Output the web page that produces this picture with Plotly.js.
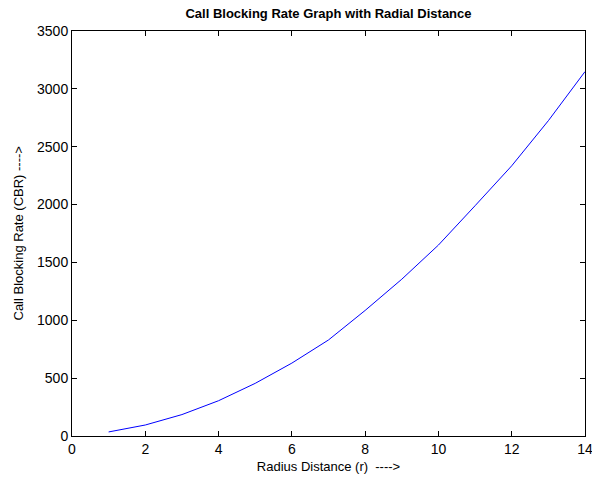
<!DOCTYPE html>
<html>
<head>
<meta charset="utf-8">
<script src="https://cdn.plot.ly/plotly-3.0.1.min.js"></script>
<style>html,body{margin:0;padding:0;background:#fff;}#chart{width:592px;height:482px;}</style>
</head>
<body>
<div id="chart"></div>
<script>
// Radius distance r
var radius = [1, 2, 3, 4, 5, 6, 7, 8, 9, 10, 11, 12, 13, 14];
// Call blocking rate
var cbr = [35, 95, 185, 305, 455, 630, 830, 1085, 1355, 1650, 1990, 2335, 2725, 3149];
var xTicks = [0, 2, 4, 6, 8, 10, 12, 14];
var yTicks = [0, 500, 1000, 1500, 2000, 2500, 3000, 3500];

var fontFam = '"Liberation Sans", Arial, sans-serif';

var trace = {
  x: radius, y: cbr, type: 'scatter', mode: 'lines',
  line: {color: '#0000ff', width: 1}, hoverinfo: 'none'
};

var axisCommon = {
  showgrid: false, zeroline: false, showline: true, mirror: 'ticks',
  linecolor: '#000', linewidth: 1, ticks: 'inside', ticklen: 5,
  tickcolor: '#000', tickwidth: 1, ticklabeloverflow: 'allow',
  tickfont: {family: fontFam, size: 14, color: '#000'}
};

var layout = {
  width: 592, height: 482,
  margin: {l: 72, r: 7, t: 31, b: 46},
  paper_bgcolor: '#fff', plot_bgcolor: '#fff',
  showlegend: false,
  title: {
    text: '<b>Call Blocking Rate Graph with Radial Distance</b>',
    font: {family: fontFam, size: 13, color: '#000'},
    x: 0.5, xref: 'paper', y: 1 - 13/482, yref: 'container', yanchor: 'middle'
  },
  xaxis: Object.assign({}, axisCommon, {
    range: [0, 14], tickvals: xTicks, ticktext: xTicks.map(String),
    title: {text: 'Radius Distance (r)  ---->', font: {family: fontFam, size: 13, color: '#000'}, standoff: 6}
  }),
  yaxis: Object.assign({}, axisCommon, {
    range: [0, 3500], tickvals: yTicks, ticktext: yTicks.map(String)
  }),
  annotations: [{
    text: 'Call Blocking Rate (CBR) ---->', textangle: -90,
    xref: 'paper', yref: 'paper', x: 0, y: 0.5, xanchor: 'center', yanchor: 'middle',
    xshift: -54, showarrow: false,
    font: {family: fontFam, size: 13, color: '#000'}
  }]
};

Plotly.newPlot('chart', [trace], layout, {displayModeBar: false, staticPlot: true});
</script>
</body>
</html>
